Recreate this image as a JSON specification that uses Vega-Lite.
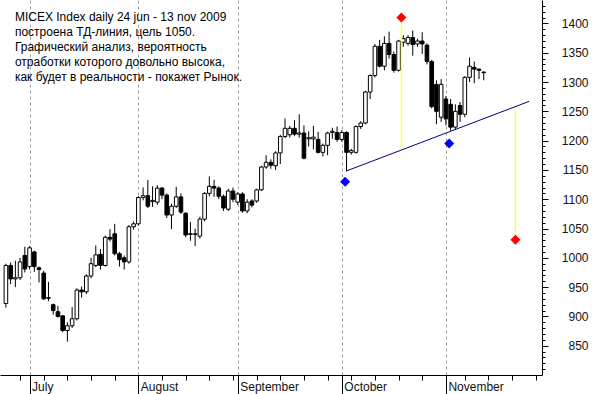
{
  "$schema": "https://vega.github.io/schema/vega-lite/v6.json",
  "width": 542,
  "height": 375,
  "autosize": "none",
  "padding": {"left": 0, "top": 0, "right": 50, "bottom": 19},
  "background": "white",
  "config": {"view": {"stroke": null}, "font": "Liberation Sans"},
  "resolve": {"axis": {"x": "independent", "y": "independent"}},
  "datasets": {
    "candles": [
      {"i":0,"o":922,"h":990,"l":915,"c":987},{"i":1,"o":987,"h":992,"l":955,"c":964},{"i":2,"o":964,"h":995,"l":950,"c":966},{"i":3,"o":966,"h":1000,"l":962,"c":993},{"i":4,"o":1004,"h":1019,"l":975,"c":981},
      {"i":5,"o":985,"h":1020,"l":980,"c":1017},{"i":6,"o":1010,"h":1012,"l":976,"c":985},{"i":7,"o":983,"h":985,"l":958,"c":980},{"i":8,"o":974,"h":978,"l":928,"c":930},{"i":9,"o":932,"h":959,"l":926,"c":931},
      {"i":10,"o":920,"h":922,"l":903,"c":910},{"i":11,"o":908,"h":918,"l":898,"c":900},{"i":12,"o":901,"h":902,"l":873,"c":876},{"i":13,"o":876,"h":890,"l":857,"c":884},{"i":14,"o":884,"h":916,"l":880,"c":896},
      {"i":15,"o":896,"h":948,"l":893,"c":945},{"i":16,"o":945,"h":951,"l":932,"c":942},{"i":17,"o":942,"h":972,"l":938,"c":969},{"i":18,"o":969,"h":1000,"l":965,"c":990},{"i":19,"o":987,"h":1021,"l":984,"c":1005},
      {"i":20,"o":1006,"h":1015,"l":980,"c":987},{"i":21,"o":987,"h":1038,"l":985,"c":1035},{"i":22,"o":1035,"h":1049,"l":1028,"c":1032},{"i":23,"o":1041,"h":1058,"l":1004,"c":1007},{"i":24,"o":1007,"h":1010,"l":985,"c":997},
      {"i":25,"o":1000,"h":1004,"l":980,"c":993},{"i":26,"o":993,"h":1056,"l":990,"c":1053},{"i":27,"o":1053,"h":1062,"l":1048,"c":1058},{"i":28,"o":1058,"h":1105,"l":1055,"c":1103},{"i":29,"o":1103,"h":1120,"l":1098,"c":1106},
      {"i":30,"o":1106,"h":1133,"l":1085,"c":1088},{"i":31,"o":1096,"h":1122,"l":1087,"c":1098},{"i":32,"o":1095,"h":1124,"l":1090,"c":1119},{"i":33,"o":1119,"h":1121,"l":1100,"c":1107},{"i":34,"o":1107,"h":1110,"l":1068,"c":1073},
      {"i":35,"o":1073,"h":1092,"l":1049,"c":1088},{"i":36,"o":1088,"h":1121,"l":1085,"c":1104},{"i":37,"o":1104,"h":1110,"l":1075,"c":1078},{"i":38,"o":1076,"h":1078,"l":1035,"c":1039},{"i":39,"o":1041,"h":1061,"l":1029,"c":1040},
      {"i":40,"o":1040,"h":1050,"l":1020,"c":1041},{"i":41,"o":1037,"h":1070,"l":1033,"c":1066},{"i":42,"o":1066,"h":1112,"l":1062,"c":1110},{"i":43,"o":1110,"h":1139,"l":1105,"c":1122},{"i":44,"o":1122,"h":1133,"l":1104,"c":1119},
      {"i":45,"o":1119,"h":1122,"l":1100,"c":1105},{"i":46,"o":1105,"h":1108,"l":1080,"c":1085},{"i":47,"o":1083,"h":1118,"l":1080,"c":1114},{"i":48,"o":1114,"h":1120,"l":1095,"c":1100},{"i":49,"o":1095,"h":1112,"l":1090,"c":1109},
      {"i":50,"o":1109,"h":1112,"l":1077,"c":1080},{"i":51,"o":1080,"h":1100,"l":1076,"c":1095},{"i":52,"o":1097,"h":1100,"l":1086,"c":1090},{"i":53,"o":1097,"h":1118,"l":1094,"c":1116},{"i":54,"o":1116,"h":1157,"l":1114,"c":1155},
      {"i":55,"o":1155,"h":1175,"l":1152,"c":1163},{"i":56,"o":1163,"h":1168,"l":1152,"c":1158},{"i":57,"o":1157,"h":1182,"l":1150,"c":1179},{"i":58,"o":1179,"h":1210,"l":1160,"c":1207},{"i":59,"o":1207,"h":1238,"l":1204,"c":1221},
      {"i":60,"o":1210,"h":1225,"l":1205,"c":1221},{"i":61,"o":1221,"h":1235,"l":1208,"c":1211},{"i":62,"o":1211,"h":1245,"l":1205,"c":1213},{"i":63,"o":1213,"h":1226,"l":1168,"c":1170},{"i":64,"o":1203,"h":1216,"l":1190,"c":1205},
      {"i":65,"o":1203,"h":1225,"l":1185,"c":1206},{"i":66,"o":1202,"h":1215,"l":1178,"c":1180},{"i":67,"o":1180,"h":1195,"l":1173,"c":1192},{"i":68,"o":1192,"h":1215,"l":1175,"c":1213},{"i":69,"o":1214,"h":1222,"l":1203,"c":1216},
      {"i":70,"o":1214,"h":1224,"l":1198,"c":1202},{"i":71,"o":1202,"h":1218,"l":1198,"c":1214},{"i":72,"o":1214,"h":1216,"l":1148,"c":1180},{"i":73,"o":1180,"h":1186,"l":1176,"c":1183},{"i":74,"o":1180,"h":1226,"l":1178,"c":1224},
      {"i":75,"o":1224,"h":1233,"l":1220,"c":1230},{"i":76,"o":1230,"h":1285,"l":1228,"c":1283},{"i":77,"o":1283,"h":1313,"l":1271,"c":1311},{"i":78,"o":1311,"h":1365,"l":1308,"c":1361},{"i":79,"o":1361,"h":1372,"l":1325,"c":1327},
      {"i":80,"o":1327,"h":1378,"l":1320,"c":1366},{"i":81,"o":1366,"h":1386,"l":1340,"c":1347},{"i":82,"o":1347,"h":1352,"l":1316,"c":1320},{"i":83,"o":1320,"h":1372,"l":1318,"c":1370},{"i":84,"o":1368,"h":1380,"l":1360,"c":1374},
      {"i":85,"o":1366,"h":1380,"l":1362,"c":1376},{"i":86,"o":1376,"h":1388,"l":1345,"c":1364},{"i":87,"o":1365,"h":1374,"l":1360,"c":1370},{"i":88,"o":1370,"h":1385,"l":1348,"c":1365},{"i":89,"o":1363,"h":1366,"l":1330,"c":1335},
      {"i":90,"o":1335,"h":1338,"l":1255,"c":1258},{"i":91,"o":1296,"h":1303,"l":1228,"c":1250},{"i":92,"o":1240,"h":1305,"l":1232,"c":1296},{"i":93,"o":1271,"h":1276,"l":1226,"c":1237},{"i":94,"o":1262,"h":1271,"l":1217,"c":1223},
      {"i":95,"o":1223,"h":1262,"l":1218,"c":1250},{"i":96,"o":1260,"h":1266,"l":1232,"c":1245},{"i":97,"o":1245,"h":1310,"l":1240,"c":1308},{"i":98,"o":1308,"h":1342,"l":1300,"c":1327},{"i":99,"o":1325,"h":1335,"l":1298,"c":1322},
      {"i":100,"o":1322,"h":1323,"l":1305,"c":1320},{"i":101,"o":1317,"h":1318,"l":1303,"c":1316}
    ],
    "trend": [{"i":71.9,"v":1148},{"i":110.6,"v":1267}],
    "targets": [{"i":83.6,"from":1410,"to":1184},{"i":107.7,"from":1257,"to":1031}],
    "points": [
      {"i":83.6,"v":1410,"type":"target"},{"i":107.7,"v":1031,"type":"target"},
      {"i":71.7,"v":1130,"type":"pivot"},{"i":93.7,"v":1195,"type":"pivot"}
    ],
    "note": [{"t":["MICEX Index daily 24 jun - 13 nov 2009","построена ТД-линия, цель 1050.","Графический анализ, вероятность","отработки которого довольно высока,","как будет в реальности - покажет Рынок."]}]
  },
  "layer": [
    {
      "data": {"name": "candles"},
      "mark": {"type": "rule", "color": "black", "strokeWidth": 1},
      "encoding": {
        "x": {"field": "i", "type": "quantitative",
          "scale": {"domain": [-0.19, 112.26], "nice": false, "zero": false},
          "axis": {
            "orient": "bottom", "title": null,
            "values": [3,5,8,13,18,23,28,33,38,43,48,49,53,58,63,68,71,73,78,83,88,93,97,102,107,112],
            "labelExpr": "datum.value == 5 ? 'July' : datum.value == 28 ? 'August' : datum.value == 49 ? 'September' : datum.value == 71 ? 'October' : datum.value == 93 ? 'November' : ''",
            "tickSize": {"condition": {"test": "indexof([5,28,49,71,93], datum.value) >= 0", "value": 19}, "value": 5},
            "tickColor": "black", "domainColor": "black",
            "grid": true, "gridColor": "#a0a0a0", "gridDash": [3, 3],
            "gridOpacity": {"condition": {"test": "indexof([5,28,49,71,93], datum.value) >= 0", "value": 1}, "value": 0},
            "labelAlign": "left", "labelBaseline": "middle", "labelPadding": -8, "labelOffset": 2,
            "labelOverlap": false, "labelBound": false, "labelFlush": false,
            "labelFontSize": 12, "labelColor": "#111", "labelFont": "Liberation Sans"
          }
        },
        "y": {"field": "l", "type": "quantitative",
          "scale": {"domain": [800, 1440], "nice": false, "zero": false},
          "axis": {
            "orient": "right", "title": null,
            "values": [810,820,830,840,850,860,870,880,890,900,910,920,930,940,950,960,970,980,990,1000,1010,1020,1030,1040,1050,1060,1070,1080,1090,1100,1110,1120,1130,1140,1150,1160,1170,1180,1190,1200,1210,1220,1230,1240,1250,1260,1270,1280,1290,1300,1310,1320,1330,1340,1350,1360,1370,1380,1390,1400,1410,1420,1430],
            "labelExpr": "datum.value % 50 == 0 ? datum.label : ''",
            "format": "d",
            "tickSize": {"condition": {"test": "datum.value % 50 == 0", "value": 6}, "value": 3},
            "tickColor": "black", "domainColor": "black", "grid": false,
            "labelAlign": "right", "labelBaseline": "middle", "labelPadding": 40,
            "labelOverlap": false, "labelBound": false, "labelFlush": false,
            "labelFontSize": 12, "labelColor": "#111", "labelFont": "Liberation Sans"
          }
        },
        "y2": {"field": "h"}
      }
    },
    {
      "data": {"name": "candles"},
      "mark": {"type": "bar", "width": 3.6, "stroke": "black", "strokeWidth": 1, "cornerRadius": 0},
      "encoding": {
        "x": {"field": "i", "type": "quantitative", "scale": {"domain": [-0.19, 112.26], "nice": false, "zero": false}, "axis": null},
        "y": {"field": "o", "type": "quantitative", "scale": {"domain": [800, 1440], "nice": false, "zero": false}, "axis": null},
        "y2": {"field": "c"},
        "fill": {"condition": {"test": "datum.c >= datum.o", "value": "white"}, "value": "black"}
      }
    },
    {
      "data": {"name": "targets"},
      "mark": {"type": "rule", "color": "#ffff55", "strokeWidth": 1.5},
      "encoding": {
        "x": {"field": "i", "type": "quantitative", "scale": {"domain": [-0.19, 112.26], "nice": false, "zero": false}, "axis": null},
        "y": {"field": "from", "type": "quantitative", "scale": {"domain": [800, 1440], "nice": false, "zero": false}, "axis": null},
        "y2": {"field": "to"}
      }
    },
    {
      "data": {"name": "trend"},
      "mark": {"type": "line", "color": "#000080", "strokeWidth": 1},
      "encoding": {
        "x": {"field": "i", "type": "quantitative", "scale": {"domain": [-0.19, 112.26], "nice": false, "zero": false}, "axis": null},
        "y": {"field": "v", "type": "quantitative", "scale": {"domain": [800, 1440], "nice": false, "zero": false}, "axis": null}
      }
    },
    {
      "data": {"name": "points"},
      "mark": {"type": "point", "shape": "diamond", "filled": true, "size": 100, "opacity": 1},
      "encoding": {
        "x": {"field": "i", "type": "quantitative", "scale": {"domain": [-0.19, 112.26], "nice": false, "zero": false}, "axis": null},
        "y": {"field": "v", "type": "quantitative", "scale": {"domain": [800, 1440], "nice": false, "zero": false}, "axis": null},
        "color": {"field": "type", "type": "nominal", "scale": {"domain": ["target", "pivot"], "range": ["#ff0000", "#0000ff"]}, "legend": null}
      }
    },
    {
      "data": {"name": "note"},
      "mark": {"type": "text", "align": "left", "baseline": "alphabetic", "fontSize": 12, "lineHeight": 15, "font": "Liberation Sans", "color": "black"},
      "encoding": {
        "x": {"datum": 1.9, "type": "quantitative", "scale": {"domain": [-0.19, 112.26], "nice": false, "zero": false}, "axis": null},
        "y": {"datum": 1404, "type": "quantitative", "scale": {"domain": [800, 1440], "nice": false, "zero": false}, "axis": null},
        "text": {"field": "t"}
      }
    }
  ]
}
